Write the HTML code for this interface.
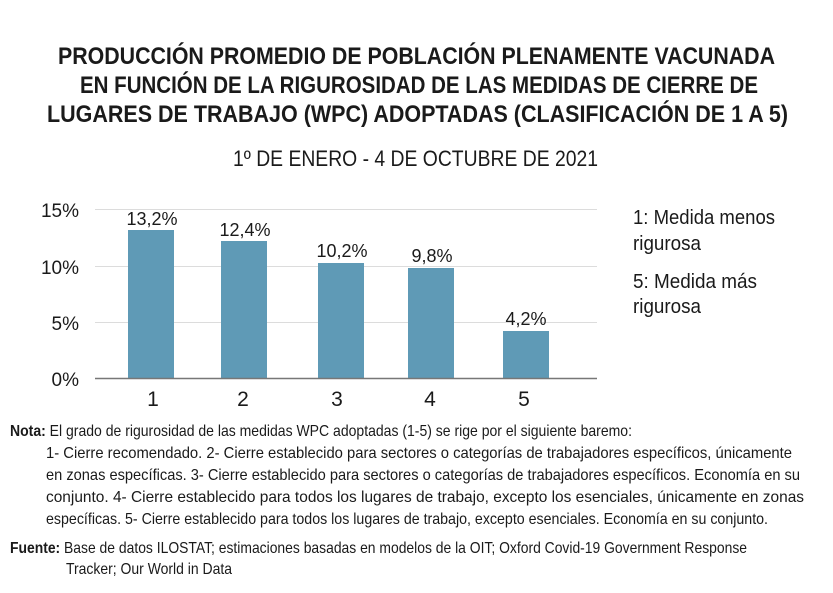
<!DOCTYPE html>
<html><head><meta charset="utf-8"><style>
html,body{margin:0;padding:0;background:#fff;}
svg{display:block;}
text{font-family:"Liberation Sans Narrow","Liberation Sans",sans-serif;fill:#1a1a1a;}
.t{font-weight:bold;font-size:24px;}
</style></head><body>
<svg width="833" height="593" viewBox="0 0 833 593">
<text class="t" x="58" y="64" textLength="717" lengthAdjust="spacingAndGlyphs">PRODUCCIÓN PROMEDIO DE POBLACIÓN PLENAMENTE VACUNADA</text>
<text class="t" x="80" y="93" textLength="678" lengthAdjust="spacingAndGlyphs">EN FUNCIÓN DE LA RIGUROSIDAD DE LAS MEDIDAS DE CIERRE DE</text>
<text class="t" x="47" y="122" textLength="741" lengthAdjust="spacingAndGlyphs">LUGARES DE TRABAJO (WPC) ADOPTADAS (CLASIFICACIÓN  DE 1 A 5)</text>
<text x="233" y="166" font-size="22" textLength="365" lengthAdjust="spacingAndGlyphs">1º DE ENERO - 4 DE OCTUBRE DE 2021</text>

<g stroke="#dcdcdc" stroke-width="1">
<line x1="95" y1="209.5" x2="597" y2="209.5"/>
<line x1="95" y1="266.5" x2="597" y2="266.5"/>
<line x1="95" y1="322.5" x2="597" y2="322.5"/>
</g>
<g fill="#5f9ab6">
<rect x="128" y="230" width="46" height="148"/>
<rect x="221" y="241" width="46" height="137"/>
<rect x="318" y="263" width="46" height="115"/>
<rect x="408" y="268" width="46" height="110"/>
<rect x="503" y="331" width="46" height="47"/>
</g>
<line x1="95" y1="378.5" x2="597" y2="378.5" stroke="#777" stroke-width="1.5"/>
<g font-size="19" text-anchor="end">
<text x="79" y="217">15%</text>
<text x="79" y="274">10%</text>
<text x="79" y="330">5%</text>
<text x="79" y="386">0%</text>
</g>
<g font-size="18" text-anchor="middle">
<text x="152" y="225">13,2%</text>
<text x="245" y="236">12,4%</text>
<text x="342" y="257">10,2%</text>
<text x="432" y="262">9,8%</text>
<text x="526" y="325">4,2%</text>
</g>
<g font-size="21" text-anchor="middle">
<text x="153" y="406">1</text>
<text x="243" y="406">2</text>
<text x="337" y="406">3</text>
<text x="430" y="406">4</text>
<text x="524" y="406">5</text>
</g>
<g font-size="20">
<text x="633" y="224" textLength="142" lengthAdjust="spacingAndGlyphs">1: Medida menos</text>
<text x="633" y="250" textLength="68" lengthAdjust="spacingAndGlyphs">rigurosa</text>
<text x="633" y="288" textLength="124" lengthAdjust="spacingAndGlyphs">5: Medida más</text>
<text x="633" y="313" textLength="68" lengthAdjust="spacingAndGlyphs">rigurosa</text>
</g>
<g font-size="16">
<text x="10" y="436" textLength="622" lengthAdjust="spacingAndGlyphs"><tspan font-weight="bold">Nota:</tspan> El grado de rigurosidad de las medidas WPC adoptadas (1-5) se rige por el siguiente baremo:</text>
<text x="46" y="458" textLength="746" lengthAdjust="spacingAndGlyphs">1- Cierre recomendado. 2- Cierre establecido para sectores o categorías de trabajadores específicos, únicamente</text>
<text x="46" y="480" textLength="754" lengthAdjust="spacingAndGlyphs">en zonas específicas. 3- Cierre establecido para sectores o categorías de trabajadores específicos. Economía en su</text>
<text x="46" y="502" textLength="758" lengthAdjust="spacingAndGlyphs">conjunto. 4- Cierre establecido para todos los lugares de trabajo, excepto los esenciales, únicamente en zonas</text>
<text x="46" y="524" textLength="722" lengthAdjust="spacingAndGlyphs">específicas. 5- Cierre establecido para todos los lugares de trabajo, excepto esenciales. Economía en su conjunto.</text>
<text x="10" y="553" textLength="737" lengthAdjust="spacingAndGlyphs"><tspan font-weight="bold">Fuente:</tspan> Base de datos ILOSTAT; estimaciones basadas en modelos de la OIT; Oxford Covid-19 Government Response</text>
<text x="66" y="574" textLength="166" lengthAdjust="spacingAndGlyphs">Tracker; Our World in Data</text>
</g>
</svg>
</body></html>
